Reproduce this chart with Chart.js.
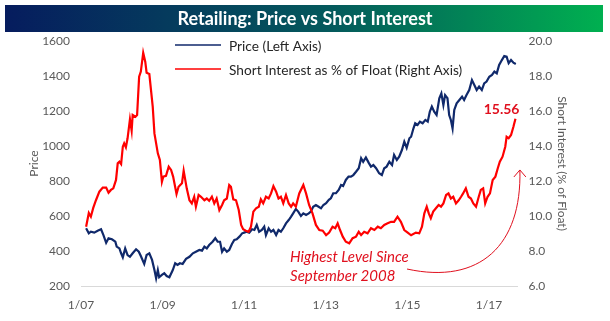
<!DOCTYPE html>
<html>
<head>
<meta charset="utf-8">
<script src="https://cdn.jsdelivr.net/npm/chart.js@4.4.0/dist/chart.umd.min.js"></script>
<style>
  html, body { margin: 0; padding: 0; background: #fff; }
  #wrap { width: 610px; height: 321px; }
</style>
</head>
<body>
<div id="wrap"><canvas id="chart" width="610" height="321"></canvas></div>
<script>
// x values are months since Jan 2007
const xTickMonths = [0, 24, 48, 72, 96, 120];
const xTickLabels = ['1/07', '1/09', '1/11', '1/13', '1/15', '1/17'];

// Price (left axis)
const priceMonths = [
  1.5,2.3,2.9,3.9,4.9,5.9,6.6,7.4,8.1,9.1,
  10.1,10.5,11.3,11.8,12.3,13.0,13.7,14.4,15.2,16.2,
  17.0,17.6,18.6,19.3,20.1,20.9,21.6,22.1,22.6,23.0,
  23.8,24.5,25.2,26.0,27.0,27.7,28.4,29.1,29.9,30.9,
  31.9,32.9,33.8,34.8,35.6,36.3,37.0,37.7,38.7,39.5,
  40.2,40.9,41.5,42.1,42.9,43.6,44.4,45.1,45.8,46.6,
  47.4,48.0,48.7,49.5,50.3,51.0,51.7,52.4,53.2,53.9,
  54.4,55.2,55.9,56.6,57.4,58.1,58.8,59.5,60.3,61.1,
  61.8,62.4,63.2,63.9,64.7,65.4,66.2,67.0,67.6,68.3,
  69.1,69.9,70.6,71.3,72.1,72.9,73.5,74.2,75.0,75.8,
  76.5,77.1,77.9,78.7,79.4,80.1,80.9,81.7,82.4,83.0,
  83.8,84.6,85.3,86.0,86.8,87.7,88.5,89.2,89.9,90.7,
  91.5,92.1,92.9,93.6,94.4,95.1,95.8,96.6,97.1,97.8,
  98.3,99.0,99.7,100.5,101.3,102.0,102.6,103.2,103.9,104.6,
  105.4,106.0,106.6,107.1,107.8,108.3,108.8,109.3,109.8,110.5,
  111.3,112.1,112.7,113.4,114.2,115.0,115.7,116.4,117.1,117.9,
  118.6,119.3,120.1,120.9,121.6,122.3,123.0,123.8,124.5,125.2,
  125.8,126.5,127.2,127.9
];
const priceValues = [
  530,501,510,505,516,524,491,447,473,467,
  453,425,415,387,364,415,377,367,387,410,
  396,371,326,377,387,349,291,244,291,250,
  263,273,257,250,291,330,320,330,326,355,
  367,387,396,406,402,425,415,434,453,473,
  453,453,396,415,396,406,440,463,467,482,
  501,505,510,505,524,520,549,510,520,539,
  491,530,510,520,491,520,510,530,558,577,
  596,615,640,625,600,615,606,615,625,653,
  663,653,644,663,673,692,701,730,730,749,
  777,771,806,825,825,834,853,873,930,910,
  935,905,882,891,873,844,834,873,882,910,
  891,949,920,939,977,1025,990,1044,1053,1101,
  1130,1120,1139,1130,1149,1139,1196,1225,1196,1177,
  1273,1301,1234,1291,1273,1177,1149,1101,1206,1244,
  1263,1282,1263,1291,1320,1377,1349,1320,1339,1320,
  1358,1368,1396,1406,1425,1415,1463,1491,1514,1510,
  1473,1491,1476,1469
];

// Short interest as % of float (right axis)
const shortMonths = [
  1.5,2.3,2.9,3.6,4.4,5.4,6.4,7.4,8.1,8.8,
  9.5,10.3,10.8,11.3,11.8,12.3,12.7,13.2,13.7,14.4,
  14.9,15.2,16.0,16.5,17.1,17.6,18.3,18.9,19.3,20.1,
  21.1,21.6,22.6,23.2,23.8,24.2,25.0,25.8,26.5,27.1,
  28.1,28.7,29.7,30.2,31.1,31.9,32.6,33.3,33.8,34.6,
  35.3,36.3,37.0,37.7,38.5,39.2,39.9,40.7,41.5,42.1,
  42.9,43.6,44.1,44.8,45.6,46.4,47.1,47.7,48.5,49.3,
  50.0,50.7,51.5,52.3,52.9,53.6,54.4,55.2,55.9,56.6,
  57.4,58.1,58.8,59.5,60.3,61.1,61.8,62.4,63.2,64.2,
  65.4,66.2,67.1,68.1,69.1,70.1,71.1,72.1,73.0,74.0,
  74.8,75.5,76.2,77.0,77.9,78.9,79.9,80.9,81.7,82.4,
  83.3,84.3,85.3,86.3,87.3,88.2,89.2,90.2,91.2,92.1,
  93.1,94.1,95.1,96.1,97.1,98.5,99.5,100.3,101.0,101.7,
  102.3,102.9,103.6,104.4,105.2,105.9,106.6,107.4,108.1,108.8,
  109.5,110.3,111.1,111.8,112.4,113.2,114.0,114.7,115.4,116.2,
  117.0,117.6,118.3,118.9,119.6,120.3,121.1,121.9,122.6,123.2,
  124.0,124.8,125.2,125.8,126.5,127.2,127.8
];
const shortValues = [
  9.39,10.17,9.96,10.46,10.9,11.39,11.62,11.62,11.33,11.49,
  11.58,12.06,13.01,13.1,12.97,13.96,14.15,13.93,14.44,15.53,
  14.88,15.77,15.67,15.77,17.96,18.25,19.33,18.82,18.19,18.11,
  16.25,14.72,13.58,13.2,11.96,12.25,12.29,12.82,12.63,12.25,
  11.26,11.67,11.87,12.59,11.58,10.9,10.72,11.1,10.53,11.2,
  11.1,10.9,11.0,10.87,11.1,10.72,11.0,10.34,10.63,10.9,
  11.0,11.77,11.67,10.95,10.9,10.34,9.49,9.24,9.16,9.1,
  9.39,10.25,10.44,10.53,10.95,10.72,11.1,11.0,11.29,11.71,
  11.39,11.0,11.1,10.72,11.2,10.72,10.53,10.72,10.53,11.29,
  11.77,11.29,10.63,10.15,9.49,9.2,9.16,8.91,9.05,9.39,
  9.3,9.58,9.2,8.82,8.53,8.44,8.73,8.82,9.1,8.91,
  9.1,9.01,9.3,9.2,9.39,9.3,9.49,9.58,9.67,9.67,
  9.96,9.67,9.2,9.05,8.9,9.05,9.01,9.39,10.15,10.53,
  10.15,9.87,10.25,10.44,10.63,10.53,10.72,11.2,11.29,11.0,
  11.1,10.72,10.9,11.1,11.29,11.58,11.1,11.0,10.72,10.53,
  11.1,11.49,11.58,10.72,11.1,11.29,12.06,12.25,12.73,13.1,
  13.39,13.96,14.53,14.44,14.63,15.1,15.56
];

const FONT = 'Lato, "Open Sans", sans-serif';
const NAVY = '#10296b';
const RED = '#ff0000';
const NOTE_RED = '#e0101e';
const AXIS_GREY = '#595959';

// title bar, legend and the annotation
const decorations = {
  id: 'decorations',
  beforeDraw(chart) {
    const ctx = chart.ctx;
    ctx.save();
    ctx.fillStyle = '#fff';
    ctx.fillRect(0, 0, chart.width, chart.height);
    const g = ctx.createLinearGradient(5, 0, 603, 0);
    g.addColorStop(0, '#061c5e');
    g.addColorStop(0.55, '#045a5c');
    g.addColorStop(1, '#00b050');
    ctx.fillStyle = g;
    ctx.fillRect(5, 5, 598, 27);
    ctx.fillStyle = '#fff';
    ctx.font = 'bold 18px ' + FONT;
    ctx.textAlign = 'center';
    ctx.textBaseline = 'middle';
    ctx.fillText('Retailing: Price vs Short Interest', 305, 19);
    ctx.restore();
  },
  afterDraw(chart) {
    const ctx = chart.ctx;
    ctx.save();

    // legend
    const rows = [[45, 47], [69, 71]];
    chart.data.datasets.forEach((ds, i) => {
      const [ly, ty] = rows[i];
      ctx.strokeStyle = ds.borderColor;
      ctx.lineWidth = 1.5;
      ctx.beginPath();
      ctx.moveTo(175, ly);
      ctx.lineTo(221, ly);
      ctx.stroke();
      ctx.fillStyle = '#262626';
      ctx.font = '13.7px ' + FONT;
      ctx.textAlign = 'left';
      ctx.textBaseline = 'middle';
      ctx.fillText(ds.label, 229, ty);
    });

    const xs = chart.scales.x, ys = chart.scales.y1;
    const P = (m, v) => [xs.getPixelForValue(m), ys.getPixelForValue(v)];

    // last value label
    const n = shortMonths.length - 1;
    const [lx, ly] = P(shortMonths[n], shortValues[n]);
    ctx.fillStyle = NOTE_RED;
    ctx.font = 'bold 14px ' + FONT;
    ctx.textAlign = 'right';
    ctx.textBaseline = 'middle';
    ctx.fillText(shortValues[n].toFixed(2), lx + 4, ly - 9);

    // note text
    ctx.font = 'italic 15px ' + FONT;
    ctx.textAlign = 'left';
    let [nx, ny] = P(61.5, 7.66);
    ctx.fillText('Highest Level Since', nx, ny);
    [nx, ny] = P(61.5, 6.57);
    ctx.fillText('September 2008', nx, ny);

    // curved arrow
    const a0 = P(95.9, 6.97), a1 = P(117.4, 6.06), a2 = P(129.7, 8.34), a3 = P(129.1, 12.63);
    ctx.strokeStyle = NOTE_RED;
    ctx.lineWidth = 1;
    ctx.beginPath();
    ctx.moveTo(a0[0], a0[1]);
    ctx.bezierCurveTo(a1[0], a1[1], a2[0], a2[1], a3[0], a3[1]);
    ctx.stroke();
    ctx.beginPath();
    ctx.moveTo(a3[0] - 6, a3[1] + 7);
    ctx.lineTo(a3[0], a3[1]);
    ctx.lineTo(a3[0] + 6, a3[1] + 7);
    ctx.stroke();

    ctx.restore();
  }
};

new Chart(document.getElementById('chart').getContext('2d'), {
  type: 'line',
  data: {
    datasets: [
      {
        label: 'Price (Left Axis)',
        data: priceMonths.map((m, i) => ({ x: m, y: priceValues[i] })),
        borderColor: NAVY,
        borderWidth: 2.2,
        pointRadius: 0,
        tension: 0,
        yAxisID: 'y',
        order: 1
      },
      {
        label: 'Short Interest as % of Float (Right Axis)',
        data: shortMonths.map((m, i) => ({ x: m, y: shortValues[i] })),
        borderColor: RED,
        borderWidth: 2.2,
        pointRadius: 0,
        tension: 0,
        yAxisID: 'y1',
        order: 0
      }
    ]
  },
  options: {
    responsive: false,
    animation: false,
    layout: { padding: { top: 41, left: 0, right: 0, bottom: 0 } },
    plugins: { legend: { display: false }, tooltip: { enabled: false } },
    scales: {
      x: {
        type: 'linear',
        min: 0,
        max: 128.4,
        grid: { display: false, drawTicks: false },
        border: { display: true, color: '#d9d9d9', width: 1 },
        afterBuildTicks: s => { s.ticks = xTickMonths.map(v => ({ value: v })); },
        ticks: {
          color: AXIS_GREY,
          font: { family: FONT, size: 12 },
          padding: 12,
          maxRotation: 0,
          autoSkip: false,
          callback: v => xTickLabels[xTickMonths.indexOf(v)]
        },
        afterFit: s => { s.height = 35; }
      },
      y: {
        position: 'left',
        min: 200,
        max: 1600,
        grid: { display: false, drawTicks: false },
        border: { display: false },
        ticks: { stepSize: 200, color: AXIS_GREY, font: { family: FONT, size: 12 }, padding: 11, callback: v => String(v) },
        title: { display: true, text: 'Price', color: AXIS_GREY, font: { family: FONT, size: 12 }, padding: { top: 27, bottom: 0 } },
        afterFit: s => { s.width = 81; }
      },
      y1: {
        position: 'right',
        min: 6,
        max: 20,
        grid: { display: false, drawTicks: false },
        border: { display: false },
        ticks: { stepSize: 2, color: AXIS_GREY, font: { family: FONT, size: 12 }, padding: 11, callback: v => v.toFixed(1) },
        title: { display: true, text: 'Short Interest (% of Float)', color: AXIS_GREY, font: { family: FONT, size: 12 }, padding: { top: 41, bottom: 0 } },
        afterFit: s => { s.width = 92.5; }
      }
    }
  },
  plugins: [decorations]
});
</script>
</body>
</html>
